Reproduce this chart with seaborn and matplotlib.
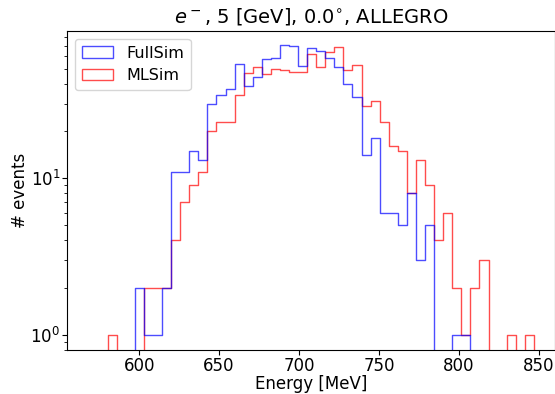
import numpy as np
import pandas as pd
import matplotlib
matplotlib.use("Agg")
import matplotlib.pyplot as plt
from matplotlib.patches import Patch
import seaborn as sns

# Histogram binning (47 bins of ~5.67 MeV)
bin_lo, bin_hi, n_bins = 580.3, 846.8, 47

# Event counts per bin
fullsim_counts = [0, 0, 0, 2, 1, 1, 2, 11, 11, 15, 13, 30, 34, 37, 54, 39,
                  44, 58, 59, 71, 70, 52, 68, 65, 59, 51, 40, 33, 14, 18, 6, 6,
                  5, 8, 3, 5, 0, 0, 1, 1, 0, 0, 0, 0, 0, 0, 0]
mlsim_counts = [1, 0, 0, 0, 2, 2, 2, 4, 7, 9, 11, 20, 23, 23, 34, 47,
                51, 46, 50, 49, 48, 48, 62, 51, 64, 69, 49, 53, 29, 31, 23, 16,
                15, 8, 13, 9, 4, 6, 2, 1, 2, 3, 0, 0, 1, 0, 1]
sample_names = ["FullSim", "MLSim"]
sample_colors = ["blue", "red"]

edges = np.linspace(bin_lo, bin_hi, n_bins + 1)
centers = 0.5 * (edges[:-1] + edges[1:])
width = edges[1] - edges[0]
# one empty bin on each side so the outline closes down to the axis
plot_edges = np.concatenate([[edges[0] - width], edges, [edges[-1] + width]]).tolist()

df = pd.concat([
    pd.DataFrame({"Energy": centers, "count": fullsim_counts, "sample": sample_names[0]}),
    pd.DataFrame({"Energy": centers, "count": mlsim_counts, "sample": sample_names[1]}),
], ignore_index=True)

fig = plt.figure(figsize=(5.55, 3.94), dpi=100)
ax = fig.add_axes([0.121, 0.112, 0.879, 0.809])

sns.histplot(data=df, x="Energy", weights="count", hue="sample",
             hue_order=sample_names, palette=dict(zip(sample_names, sample_colors)),
             bins=plot_edges, element="step", fill=False, alpha=0.7,
             linewidth=1.0, legend=False, ax=ax)

ax.set_yscale("log")
ax.set_xlim(555, 860)
ax.set_ylim(0.8, 87)

handles = [Patch(facecolor="none", edgecolor=c, alpha=0.7, linewidth=1.0, label=n)
           for n, c in zip(sample_names, sample_colors)]
ax.legend(handles=handles, loc="upper left", fontsize=11.5)

ax.set_title(r"$e^-$, 5 [GeV], 0.0$^{\circ}$, ALLEGRO", fontsize=14)
ax.set_xlabel("Energy [MeV]", fontsize=12, labelpad=0)
ax.set_ylabel("# events", fontsize=12, labelpad=1)
ax.tick_params(axis="both", which="major", labelsize=12, pad=1.5)

fig.savefig("out.png", dpi=100)
